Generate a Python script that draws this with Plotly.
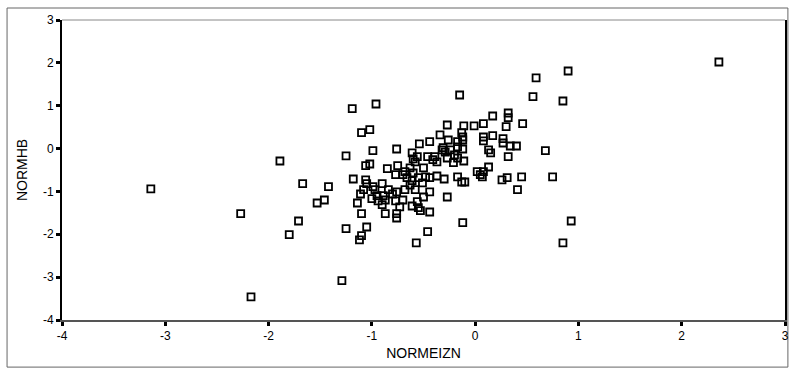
import plotly.graph_objects as go

# NORMEIZN (x) and NORMHB (y) values
normeizn = [
    2.36, 0.90, 0.59, 0.56, 0.85, -0.15, 0.17, 0.32, 0.32, 0.46,
    0.30, 0.08, -0.01, -0.11, -0.27, 0.08, 0.08, 0.17, 0.27, 0.27,
    0.34, 0.40, 0.13, 0.15, 0.68, 0.32, 0.13, 0.08, 0.07, 0.26,
    0.31, 0.45, 0.75, 0.41, 0.93, 0.85, -0.13, -0.12, -0.12, -0.17,
    -0.34, -0.26, -0.44, -0.54, -0.32, -0.31, -0.24, -0.20, -0.17, -0.12,
    -0.61, -0.60, -0.46, -0.39, -0.76, -0.99, -1.25, -1.19, -0.96, -1.10,
    -1.02, -1.06, -1.02, -0.85, -0.75, -0.63, -0.58, -0.50, -0.41, -0.37,
    -0.27, -0.21, -0.11, 0.02, 0.05, -1.18, -1.06, -1.05, -0.99, -0.90,
    -0.77, -0.70, -0.68, -0.60, -0.66, -0.55, -0.48, -0.44, -0.37, -0.30,
    -0.17, -0.13, -0.10, -1.42, -0.84, -0.76, -0.68, -0.61, -0.58, -0.63,
    -0.51, -1.11, -1.00, -0.95, -0.94, -0.89, -0.87, -0.90, -0.77, -0.80,
    -0.70, -0.73, -0.61, -0.55, -0.53, -0.44, -0.27, -0.50, -0.56, -1.14,
    -1.10, -0.87, -0.76, -0.76, -0.44, -0.12, -1.25, -1.05, -1.10, -1.12,
    -0.46, -0.57, -1.89, -3.14, -1.67, -1.53, -1.46, -2.27, -1.71, -1.80,
    -1.29, -2.17, -1.08, -0.97, -0.17, -0.29, -0.56,
]
normhb = [
    2.02, 1.81, 1.65, 1.21, 1.11, 1.25, 0.76, 0.83, 0.72, 0.58,
    0.51, 0.58, 0.53, 0.53, 0.55, 0.27, 0.18, 0.30, 0.23, 0.13,
    0.06, 0.06, -0.03, -0.10, -0.05, -0.19, -0.43, -0.54, -0.66, -0.73,
    -0.68, -0.66, -0.66, -0.96, -1.69, -2.20, 0.37, 0.27, 0.20, 0.16,
    0.32, 0.20, 0.16, 0.11, -0.03, 0.02, -0.03, -0.15, -0.22, -0.01,
    -0.10, -0.24, -0.19, -0.19, -0.01, -0.05, -0.17, 0.93, 1.04, 0.37,
    0.44, -0.40, -0.36, -0.47, -0.40, -0.45, -0.31, -0.45, -0.26, -0.31,
    -0.22, -0.33, -0.29, -0.54, -0.61, -0.71, -0.73, -0.82, -0.89, -0.82,
    -0.61, -0.61, -0.54, -0.57, -0.68, -0.68, -0.66, -0.68, -0.64, -0.71,
    -0.66, -0.78, -0.78, -0.89, -0.96, -1.01, -0.96, -0.75, -0.96, -0.85,
    -0.80, -1.06, -1.17, -1.10, -1.22, -1.10, -1.20, -1.31, -1.22, -1.06,
    -1.20, -1.36, -1.34, -1.38, -1.45, -1.01, -1.13, -1.13, -1.24, -1.27,
    -1.52, -1.52, -1.52, -1.62, -1.48, -1.73, -1.87, -1.83, -2.03, -2.13,
    -1.94, -2.20, -0.29, -0.94, -0.82, -1.27, -1.20, -1.52, -1.69, -2.01,
    -3.08, -3.46, -0.96, -0.96, 0.04, -0.08, -0.19,
]

x_ticks = [-4, -3, -2, -1, 0, 1, 2, 3]
x_ticktext = ["-4", "-3", "-2", "-1", "0", "1", "2", "3"]
y_ticks = [-4, -3, -2, -1, 0, 1, 2, 3]
y_ticktext = ["-4", "-3", "-2", "-1", "0", "1", "2", "3"]

fig = go.Figure()
fig.add_trace(go.Scatter(
    x=normeizn, y=normhb, mode="markers",
    marker=dict(symbol="square-open", size=7, color="black",
                line=dict(width=1.8, color="black")),
    showlegend=False, hoverinfo="x+y",
))

font = "Liberation Sans, Arial, sans-serif"
fig.update_layout(
    width=789, height=368,
    margin=dict(l=62, r=4, t=20, b=48, autoexpand=False),
    paper_bgcolor="white", plot_bgcolor="white",
    font=dict(family=font, size=12, color="black"),
    xaxis=dict(
        range=[-4, 3], tickvals=x_ticks, ticktext=x_ticktext,
        showgrid=False, zeroline=False, automargin=False,
        showline=True, linecolor="#555555", linewidth=2,
        ticks="outside", ticklen=4, tickwidth=3, tickcolor="black",
        tickfont=dict(size=12, family=font),
        title=dict(text="NORMEIZN", font=dict(size=14, family=font), standoff=6),
    ),
    yaxis=dict(
        range=[-4, 3], tickvals=y_ticks, ticktext=y_ticktext,
        showgrid=False, zeroline=False, automargin=False,
        showline=True, linecolor="black", linewidth=2, mirror=True,
        ticks="outside", ticklen=4, tickwidth=3, tickcolor="black",
        tickfont=dict(size=12, family=font),
        title=dict(text="NORMHB", font=dict(size=14, family=font), standoff=12),
    ),
    shapes=[
        dict(type="line", xref="paper", yref="paper", x0=0, x1=1, y0=1, y1=1,
             line=dict(color="#888888", width=1)),
        dict(type="rect", xref="paper", yref="paper",
             x0=-0.076, x1=1.004, y0=-0.157, y1=1.04,
             line=dict(color="#666666", width=1), fillcolor="rgba(0,0,0,0)",
             layer="below"),
    ],
)

fig.write_html(
    "out.html",
    config={"displayModeBar": False},
    post_script="document.body.style.margin='0';document.body.style.overflow='hidden';",
)
